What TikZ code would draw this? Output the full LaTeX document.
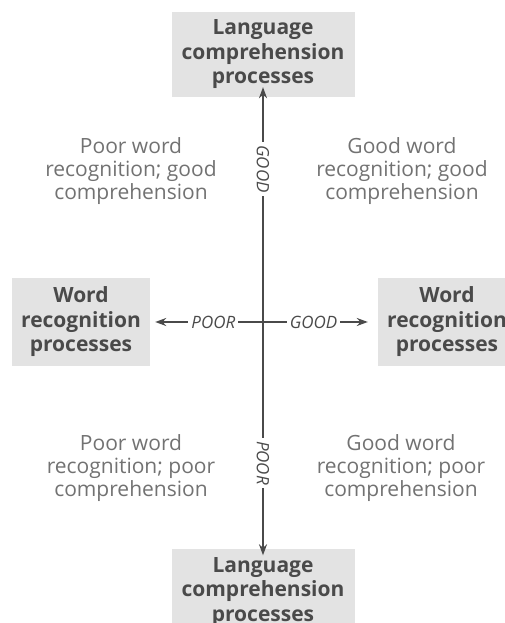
\documentclass[tikz,border=0pt]{standalone}
\usepackage{fontspec}
\setmainfont{Open Sans}
\usetikzlibrary{arrows.meta}
\usetikzlibrary{positioning}
\definecolor{boxgray}{HTML}{E3E3E3}
\definecolor{inkgray}{HTML}{4A4A4A}
\definecolor{quadgray}{HTML}{727272}

\begin{document}
\begin{tikzpicture}[x=1pt,y=1pt,>={Stealth[length=11pt,width=8pt]},
        proc/.style={fill=boxgray,text=inkgray,font=\bfseries\fontsize{21}{24.5}\selectfont,align=center,inner sep=0pt},
        quad/.style={text=quadgray,font=\fontsize{21}{23}\selectfont,align=center},
        lab/.style={fill=white,text=inkgray,font=\itshape\fontsize{17}{17}\selectfont,inner sep=3pt},
        vert/.style={->,draw=inkgray,line width=2.8pt},
        horz/.style={->,draw=inkgray,line width=2.2pt}]
        \useasboundingbox (0,0) rectangle (505,623);
        \coordinate (mid) at (263,301);
        \node[proc,minimum width=183pt,minimum height=85pt] (lang1) [above=267.5pt of mid,anchor=center] {Language\\comprehension\\processes};
        \node[proc,minimum width=183pt,minimum height=85pt] (lang2) [below=270pt of mid,anchor=center] {Language\\comprehension\\processes};
        \node[proc,minimum width=138pt,minimum height=88pt] (word1) [left=182pt of mid,anchor=center] {Word\\recognition\\processes};
        \node[proc,minimum width=138pt,minimum height=88pt] (word2) [right=184pt of mid,anchor=center] {Word\\recognition\\processes};
        \node[quad] (tl) [above left=151pt and 132pt of mid,anchor=center] {Poor word\\recognition; good\\comprehension};
        \node[quad] (tr) [above right=151pt and 139pt of mid,anchor=center] {Good word\\recognition; good\\comprehension};
        \node[quad] (bl) [below left=146pt and 132pt of mid,anchor=center] {Poor word\\recognition; poor\\comprehension};
        \node[quad] (br) [below right=146pt and 138pt of mid,anchor=center] {Good word\\recognition; poor\\comprehension};
        \path   (mid) edge [horz,shorten >=5pt] node [lab,pos=0.44] {POOR} (word1.east)
                      edge [horz,shorten >=10pt] node [lab,pos=0.44] {GOOD} (word2.west)
                      edge [vert,shorten >=-10pt] node [lab,rotate=-90,pos=0.68] {GOOD} (lang1.south)
                      edge [vert,shorten >=-6pt] node [lab,rotate=-90,pos=0.62] {POOR} (lang2.north);
\end{tikzpicture}
\end{document}
